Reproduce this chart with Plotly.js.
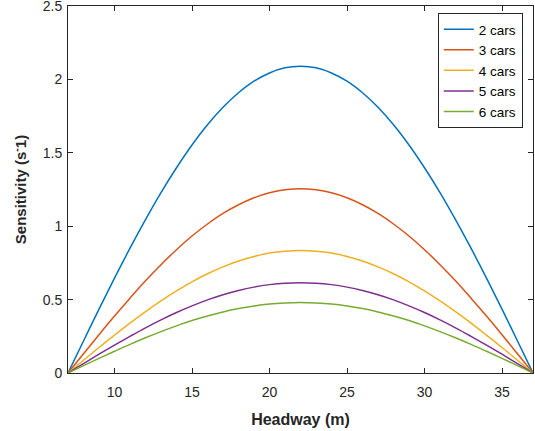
<!DOCTYPE html>
<html>
<head>
<meta charset="utf-8">
<script src="https://cdn.plot.ly/plotly-3.0.1.min.js"></script>
<style>html,body{margin:0;padding:0;background:#fff;}#chart{width:535px;height:431px;}</style>
</head>
<body>
<div id="chart"></div>
<script>
const headway = [7,8,9,10,11,12,13,14,15,16,17,18,19,20,21,22,23,24,25,26,27,28,29,30,31,32,33,34,35,36,37];
const cars2 = [0,0.218,0.435,0.646,0.850,1.045,1.229,1.398,1.553,1.691,1.810,1.909,1.988,2.044,2.079,2.090,2.079,2.044,1.988,1.909,1.810,1.691,1.553,1.398,1.229,1.045,0.850,0.646,0.435,0.218,0];
const cars3 = [0,0.131,0.261,0.388,0.510,0.628,0.738,0.840,0.933,1.015,1.087,1.146,1.194,1.228,1.248,1.255,1.248,1.228,1.194,1.146,1.087,1.015,0.933,0.840,0.738,0.628,0.510,0.388,0.261,0.131,0];
const cars4 = [0,0.087,0.174,0.258,0.340,0.418,0.491,0.559,0.621,0.676,0.723,0.763,0.794,0.817,0.830,0.835,0.830,0.817,0.794,0.763,0.723,0.676,0.621,0.559,0.491,0.418,0.340,0.258,0.174,0.087,0];
const cars5 = [0,0.064,0.128,0.190,0.250,0.308,0.362,0.412,0.457,0.498,0.533,0.562,0.585,0.602,0.612,0.615,0.612,0.602,0.585,0.562,0.533,0.498,0.457,0.412,0.362,0.308,0.250,0.190,0.128,0.064,0];
const cars6 = [0,0.050,0.100,0.148,0.195,0.240,0.282,0.321,0.357,0.388,0.416,0.439,0.457,0.470,0.477,0.480,0.477,0.470,0.457,0.439,0.416,0.388,0.357,0.321,0.282,0.240,0.195,0.148,0.100,0.050,0];
const seriesNames = ["2 cars","3 cars","4 cars","5 cars","6 cars"];
const seriesColors = ["#0072BD","#D95319","#EDB120","#7E2F8E","#77AC30"];
const series = [cars2,cars3,cars4,cars5,cars6];
const xTicks = [10,15,20,25,30,35];
const yTicks = [0,0.5,1,1.5,2,2.5];

const traces = series.map((ys,i)=>({
  x: headway, y: ys, type:'scatter', mode:'lines', name: seriesNames[i],
  line:{color: seriesColors[i], width:1.5, shape:'spline', smoothing:1}
}));

const axisCommon = {
  showline:true, mirror:'ticks', linecolor:'#262626', linewidth:1,
  ticks:'inside', ticklen:5, tickcolor:'#262626', tickwidth:1,
  showgrid:false, zeroline:false, ticklabeloverflow:'allow',
  tickfont:{family:'Liberation Sans, Arial, sans-serif', size:14, color:'#262626'}
};

const layout = {
  width:535, height:431,
  margin:{l:68, r:2, t:6, b:58},
  paper_bgcolor:'#fff', plot_bgcolor:'#fff',
  font:{family:'Liberation Sans, Arial, sans-serif', color:'#262626'},
  showlegend:true,
  xaxis: Object.assign({}, axisCommon, {
    range:[7,37], tickvals:xTicks, ticktext:xTicks.map(String),
    ticklabelstandoff:6,
    title:{text:'<b>Headway (m)</b>', font:{size:16, color:'#262626'}, standoff:15}
  }),
  yaxis: Object.assign({}, axisCommon, {
    range:[0,2.5], tickvals:yTicks, ticktext:yTicks.map(String),
    ticklabelstandoff:2,
    title:{text:'<b>Sensitivity (s<sup>-</sup>1)</b>', font:{size:15, color:'#262626'}, standoff:12}
  }),
  legend:{
    x:0.978, xanchor:'right', y:0.981, yanchor:'top',
    bgcolor:'#fff', bordercolor:'#262626', borderwidth:1,
    font:{family:'Liberation Sans, Arial, sans-serif', size:13.5, color:'#000'},
    tracegroupgap:0
  }
};

Plotly.newPlot('chart', traces, layout, {displayModeBar:false, staticPlot:true});
</script>
</body>
</html>
